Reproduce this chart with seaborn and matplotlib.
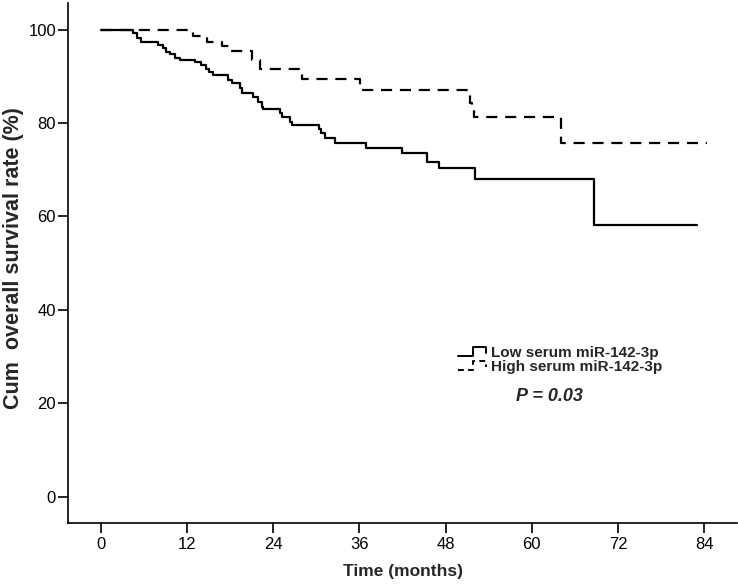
import matplotlib
matplotlib.use("Agg")
import numpy as np
import pandas as pd
import seaborn as sns
import matplotlib.pyplot as plt
from matplotlib import font_manager
from matplotlib.legend_handler import HandlerBase
from matplotlib.lines import Line2D

# ---------------- data ----------------
groups = ["Low serum miR-142-3p", "High serum miR-142-3p"]

low_time = [0, 4.5, 5.0, 5.6, 8.0, 8.7, 9.1, 9.6, 10.3, 11.0, 13.1, 14.0, 14.6,
            15.1, 15.6, 17.7, 18.2, 19.4, 19.6, 21.2, 21.9, 22.4, 22.6, 24.9,
            25.2, 26.3, 26.6, 30.3, 30.7, 31.2, 32.6, 36.9, 41.9, 45.4, 47.1,
            52.1, 68.7, 83.0]
low_surv = [100, 99.2, 98.2, 97.4, 96.8, 96.1, 95.3, 94.7, 94.0, 93.5, 93.0,
            92.4, 91.6, 90.9, 90.3, 89.2, 88.5, 87.4, 86.5, 85.6, 84.6, 83.5,
            82.9, 82.1, 81.3, 80.3, 79.6, 78.7, 77.8, 76.7, 75.8, 74.7, 73.6,
            71.7, 70.3, 68.0, 58.2, 58.2]

high_time = [0, 12.8, 14.7, 16.8, 18.0, 21.0, 22.2, 28.0, 36.1, 51.4, 51.7,
             52.0, 64.0, 84.4]
high_surv = [100, 98.6, 97.3, 96.4, 95.4, 93.5, 91.5, 89.4, 87.1, 84.3, 83.4,
             81.3, 75.7, 75.7]

x_ticks = [0, 12, 24, 36, 48, 60, 72, 84]
y_ticks = [0, 20, 40, 60, 80, 100]
p_text = "P = 0.03"

df = pd.concat([
    pd.DataFrame({"time": low_time, "surv": low_surv, "group": groups[0]}),
    pd.DataFrame({"time": high_time, "surv": high_surv, "group": groups[1]}),
], ignore_index=True)

# ---------------- style ----------------
sns.set_style("ticks")
names = {f.name for f in font_manager.fontManager.ttflist}
narrow = "Liberation Sans Narrow" if "Liberation Sans Narrow" in names else "Liberation Sans"
plt.rcParams["font.family"] = ["Liberation Sans", "DejaVu Sans"]

fig = plt.figure(figsize=(7.38, 5.85), dpi=100)
ax = fig.add_axes([0.092, 0.106, 0.907, 0.889])

sns.lineplot(data=df, x="time", y="surv", hue="group", style="group",
             palette={groups[0]: "black", groups[1]: "black"},
             dashes={groups[0]: "", groups[1]: (5, 3.5)},
             drawstyle="steps-post", linewidth=1.6, estimator=None,
             legend=False, ax=ax)

ax.set_xlim(-4.6, 88.6)
ax.set_ylim(-5.6, 105.7)
ax.set_xticks(x_ticks)
ax.set_yticks(y_ticks)
ax.set_xticklabels([str(t) for t in x_ticks], family=[narrow, "DejaVu Sans"], fontsize=12)
ax.set_yticklabels([str(t) for t in y_ticks], fontsize=12)
sns.despine(ax=ax)
for s in ["left", "bottom"]:
    ax.spines[s].set_linewidth(1.2)
    ax.spines[s].set_color("black")
ax.tick_params(axis="y", direction="out", length=7, width=1.2, colors="black", pad=1.5)
ax.tick_params(axis="x", direction="out", length=7, width=1.2, colors="black", pad=3)

ax.set_xlabel("Time (months)", fontsize=12.5, fontweight="bold",
              family=[narrow, "DejaVu Sans"], labelpad=9)
ax.set_ylabel("Cum  overall survival rate (%)", fontsize=15.5, fontweight="bold")
ax.yaxis.set_label_coords(-0.066, 0.51)


# step-shaped legend handles like SPSS
class StepHandler(HandlerBase):
    def create_artists(self, legend, orig_handle, xdescent, ydescent, width,
                       height, fontsize, trans):
        x0 = -xdescent
        y0 = -ydescent + height * 0.05
        y1 = -ydescent + height * 0.9
        xs = [x0, x0 + width * 0.5, x0 + width * 0.5, x0 + width * 0.95, x0 + width * 0.95]
        ys = [y0, y0, y1, y1, y0 + height * 0.3]
        ln = Line2D(xs, ys, color="black", linewidth=1.4,
                    linestyle=orig_handle.get_linestyle())
        if orig_handle.get_linestyle() in ("--", "dashed"):
            ln.set_dashes((3, 2.2))
        ln.set_transform(trans)
        return [ln]


h_low = Line2D([], [], color="black", linestyle="-")
h_high = Line2D([], [], color="black", linestyle="--")
leg = ax.legend([h_low, h_high], groups, handler_map={Line2D: StepHandler()},
                loc="upper left", bbox_to_anchor=(0.583, 0.341), frameon=False,
                prop={"weight": "bold", "size": 11}, handlelength=1.9,
                handletextpad=0.25, labelspacing=0.0, borderaxespad=0,
                borderpad=0)

ax.text(0.72, 0.244, p_text, transform=ax.transAxes, ha="center", va="center",
        fontsize=13, fontweight="bold", fontstyle="italic")

fig.savefig("out.png", dpi=100)
